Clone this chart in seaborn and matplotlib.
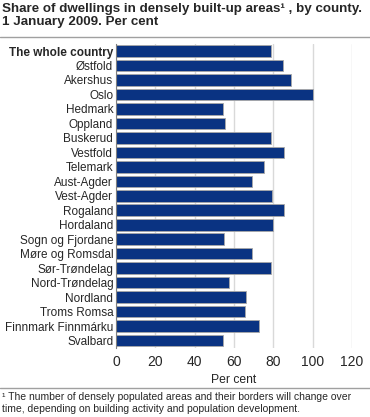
import pandas as pd
import matplotlib.pyplot as plt
import seaborn as sns
from matplotlib.lines import Line2D

fylker = [
    "The whole country", "Østfold", "Akershus", "Oslo", "Hedmark", "Oppland",
    "Buskerud", "Vestfold", "Telemark", "Aust-Agder", "Vest-Agder", "Rogaland",
    "Hordaland", "Sogn og Fjordane", "Møre og Romsdal", "Sør-Trøndelag",
    "Nord-Trøndelag", "Nordland", "Troms Romsa", "Finnmark Finnmárku", "Svalbard",
]
andel = [
    78.8, 84.9, 89.1, 100.2, 54.4, 55.5,
    78.9, 85.6, 75.2, 69.1, 79.6, 85.6,
    80.1, 55.1, 69.4, 78.8,
    57.7, 66.3, 65.7, 72.7, 54.3,
]
x_ticks = [0, 20, 40, 60, 80, 100, 120]

tittel = "Share of dwellings in densely built-up areas¹ , by county.\n1 January 2009. Per cent"
fotnote = ("¹ The number of densely populated areas and their borders will change over\n"
           "time, depending on building activity and population development.")

sns.set_theme(style="white")
plt.rcParams["font.family"] = ["Liberation Sans", "DejaVu Sans"]

df = pd.DataFrame({"Fylke": fylker, "Andel": andel})

fig = plt.figure(figsize=(3.70, 4.17), dpi=100)
ax = fig.add_axes([0.3135, 0.166, 0.6375, 0.729])

sns.barplot(data=df, x="Andel", y="Fylke", orient="h", color="#0a3382",
            saturation=1, width=0.8, edgecolor="#a8a8a8", linewidth=0.6, ax=ax)

ax.set_xlim(0, 120)
ax.set_xticks(x_ticks)
ax.set_xticklabels([str(t) for t in x_ticks], fontsize=10)
ax.set_xlabel("Per cent", fontsize=8.7, labelpad=4)
ax.set_ylabel("")
ax.tick_params(axis="y", labelsize=8.5, pad=2, length=0)
ax.tick_params(axis="x", pad=5, length=0)
ax.get_yticklabels()[0].set_fontweight("bold")
ax.xaxis.grid(True, color="#d9d9d9", linewidth=1)
ax.set_axisbelow(True)
for side in ["top", "bottom", "right"]:
    ax.spines[side].set_visible(False)
ax.spines["left"].set_color("#808080")
ax.spines["left"].set_linewidth(0.8)

fig.text(0.006, 0.993, tittel, fontsize=9.6, fontweight="bold", va="top", ha="left",
         linespacing=1.12)
fig.add_artist(Line2D([0, 1], [0.911, 0.911], color="#a0a0a0", linewidth=1))
fig.add_artist(Line2D([0, 1], [0.069, 0.069], color="#a0a0a0", linewidth=1))
fig.text(0.006, 0.060, fotnote, fontsize=7.5, va="top", ha="left", linespacing=1.25)

fig.savefig("out.png", dpi=100)
